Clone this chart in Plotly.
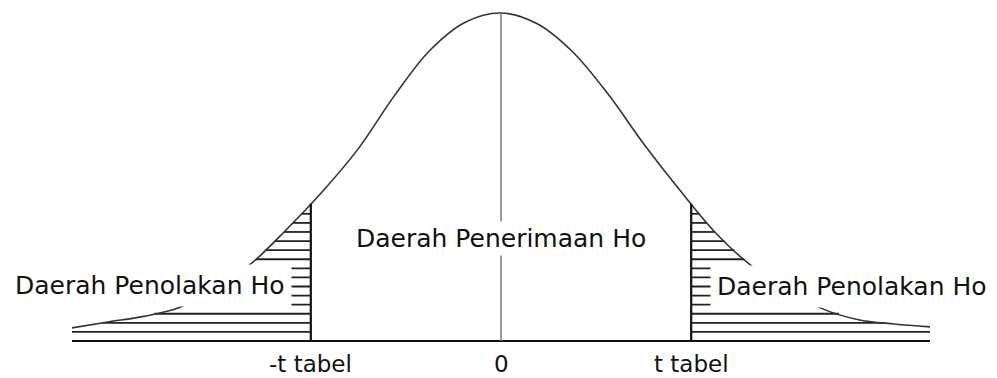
import numpy as np
import plotly.graph_objects as go

# curve (z = distance from centre in sigma, h = height / peak)
curve_z = [-3.0, -2.75, -2.5, -2.25, -2.0, -1.75, -1.5, -1.25, -1.0, -0.75, -0.5, -0.25, 0.0,
           0.25, 0.5, 0.75, 1.0, 1.25, 1.5, 1.75, 2.0, 2.25, 2.5, 2.75, 3.0]
curve_h = [0.040, 0.058, 0.075, 0.102, 0.163, 0.235, 0.34, 0.455, 0.585, 0.745, 0.885, 0.972, 1.0,
           0.968, 0.882, 0.752, 0.60, 0.46, 0.33, 0.23, 0.162, 0.098, 0.065, 0.052, 0.043]

t_crit = 1.33
tick_vals = [-t_crit, 0, t_crit]
tick_text = ["-t tabel", "0", "t tabel"]
reject_label = "Daerah Penolakan Ho"
accept_label = "Daerah Penerimaan Ho"

cz = np.array(curve_z)
ch = np.array(curve_h)
left = cz <= 0
right = cz >= 0
h_crit = float(np.interp(-t_crit, cz, ch))

# horizontal hatching of the two rejection regions
hx, hy = [], []
for lev in np.arange(0, h_crit, 0.0277):
    if lev <= 0:
        continue
    if lev < ch[left].min():
        xl = cz.min()
    else:
        xl = float(np.interp(lev, ch[left], cz[left]))
    hx += [xl, -t_crit, None]
    hy += [lev, lev, None]
    rz, rh = cz[right][::-1], ch[right][::-1]
    if lev < rh.min():
        xr = cz.max()
    else:
        xr = float(np.interp(lev, rh, rz))
    hx += [t_crit, xr, None]
    hy += [lev, lev, None]

fig = go.Figure()
fig.add_trace(go.Scatter(x=hx, y=hy, mode="lines",
                         line=dict(color="#222", width=1.8), hoverinfo="skip"))
fig.add_trace(go.Scatter(x=curve_z, y=curve_h, mode="lines",
                         line=dict(color="#333", width=1.6, shape="spline", smoothing=1.0),
                         hoverinfo="skip"))
# baseline
fig.add_trace(go.Scatter(x=[cz.min(), cz.max()], y=[0, 0], mode="lines",
                         line=dict(color="#111", width=2.2), hoverinfo="skip"))
# centre line
fig.add_trace(go.Scatter(x=[0, 0], y=[0, max(curve_h)], mode="lines",
                         line=dict(color="#808080", width=1.6), hoverinfo="skip"))
# critical lines
fig.add_trace(go.Scatter(x=[-t_crit, -t_crit, None, t_crit, t_crit],
                         y=[0, h_crit, None, 0, h_crit], mode="lines",
                         line=dict(color="#111", width=2.2), hoverinfo="skip"))

font = dict(family="DejaVu Sans", size=25, color="#111")
fig.add_annotation(x=-t_crit - 0.13, y=0.168, text=reject_label, showarrow=False,
                   xanchor="right", yanchor="middle", font=font,
                   bgcolor="white", borderpad=6)
fig.add_annotation(x=t_crit + 0.13, y=0.165, text=reject_label, showarrow=False,
                   xanchor="left", yanchor="middle", font=font,
                   bgcolor="white", borderpad=6)
fig.add_annotation(x=0, y=0.311, text=accept_label, showarrow=False,
                   xanchor="center", yanchor="middle", font=font,
                   bgcolor="white", borderpad=2)
for v, t in zip(tick_vals, tick_text):
    fig.add_annotation(x=v, y=-0.07, text=t, showarrow=False,
                       xanchor="center", yanchor="middle",
                       font=dict(family="DejaVu Sans", size=23, color="#111"))

fig.update_layout(
    width=997, height=378,
    margin=dict(l=0, r=0, t=0, b=0),
    plot_bgcolor="white", paper_bgcolor="white",
    showlegend=False,
    xaxis=dict(range=[-501 / 143, 496 / 143], visible=False),
    yaxis=dict(range=[-37 / 328, 341 / 328], visible=False),
)

fig.write_html("out.html", config={"displayModeBar": False},
               post_script="document.body.style.margin='0';")
